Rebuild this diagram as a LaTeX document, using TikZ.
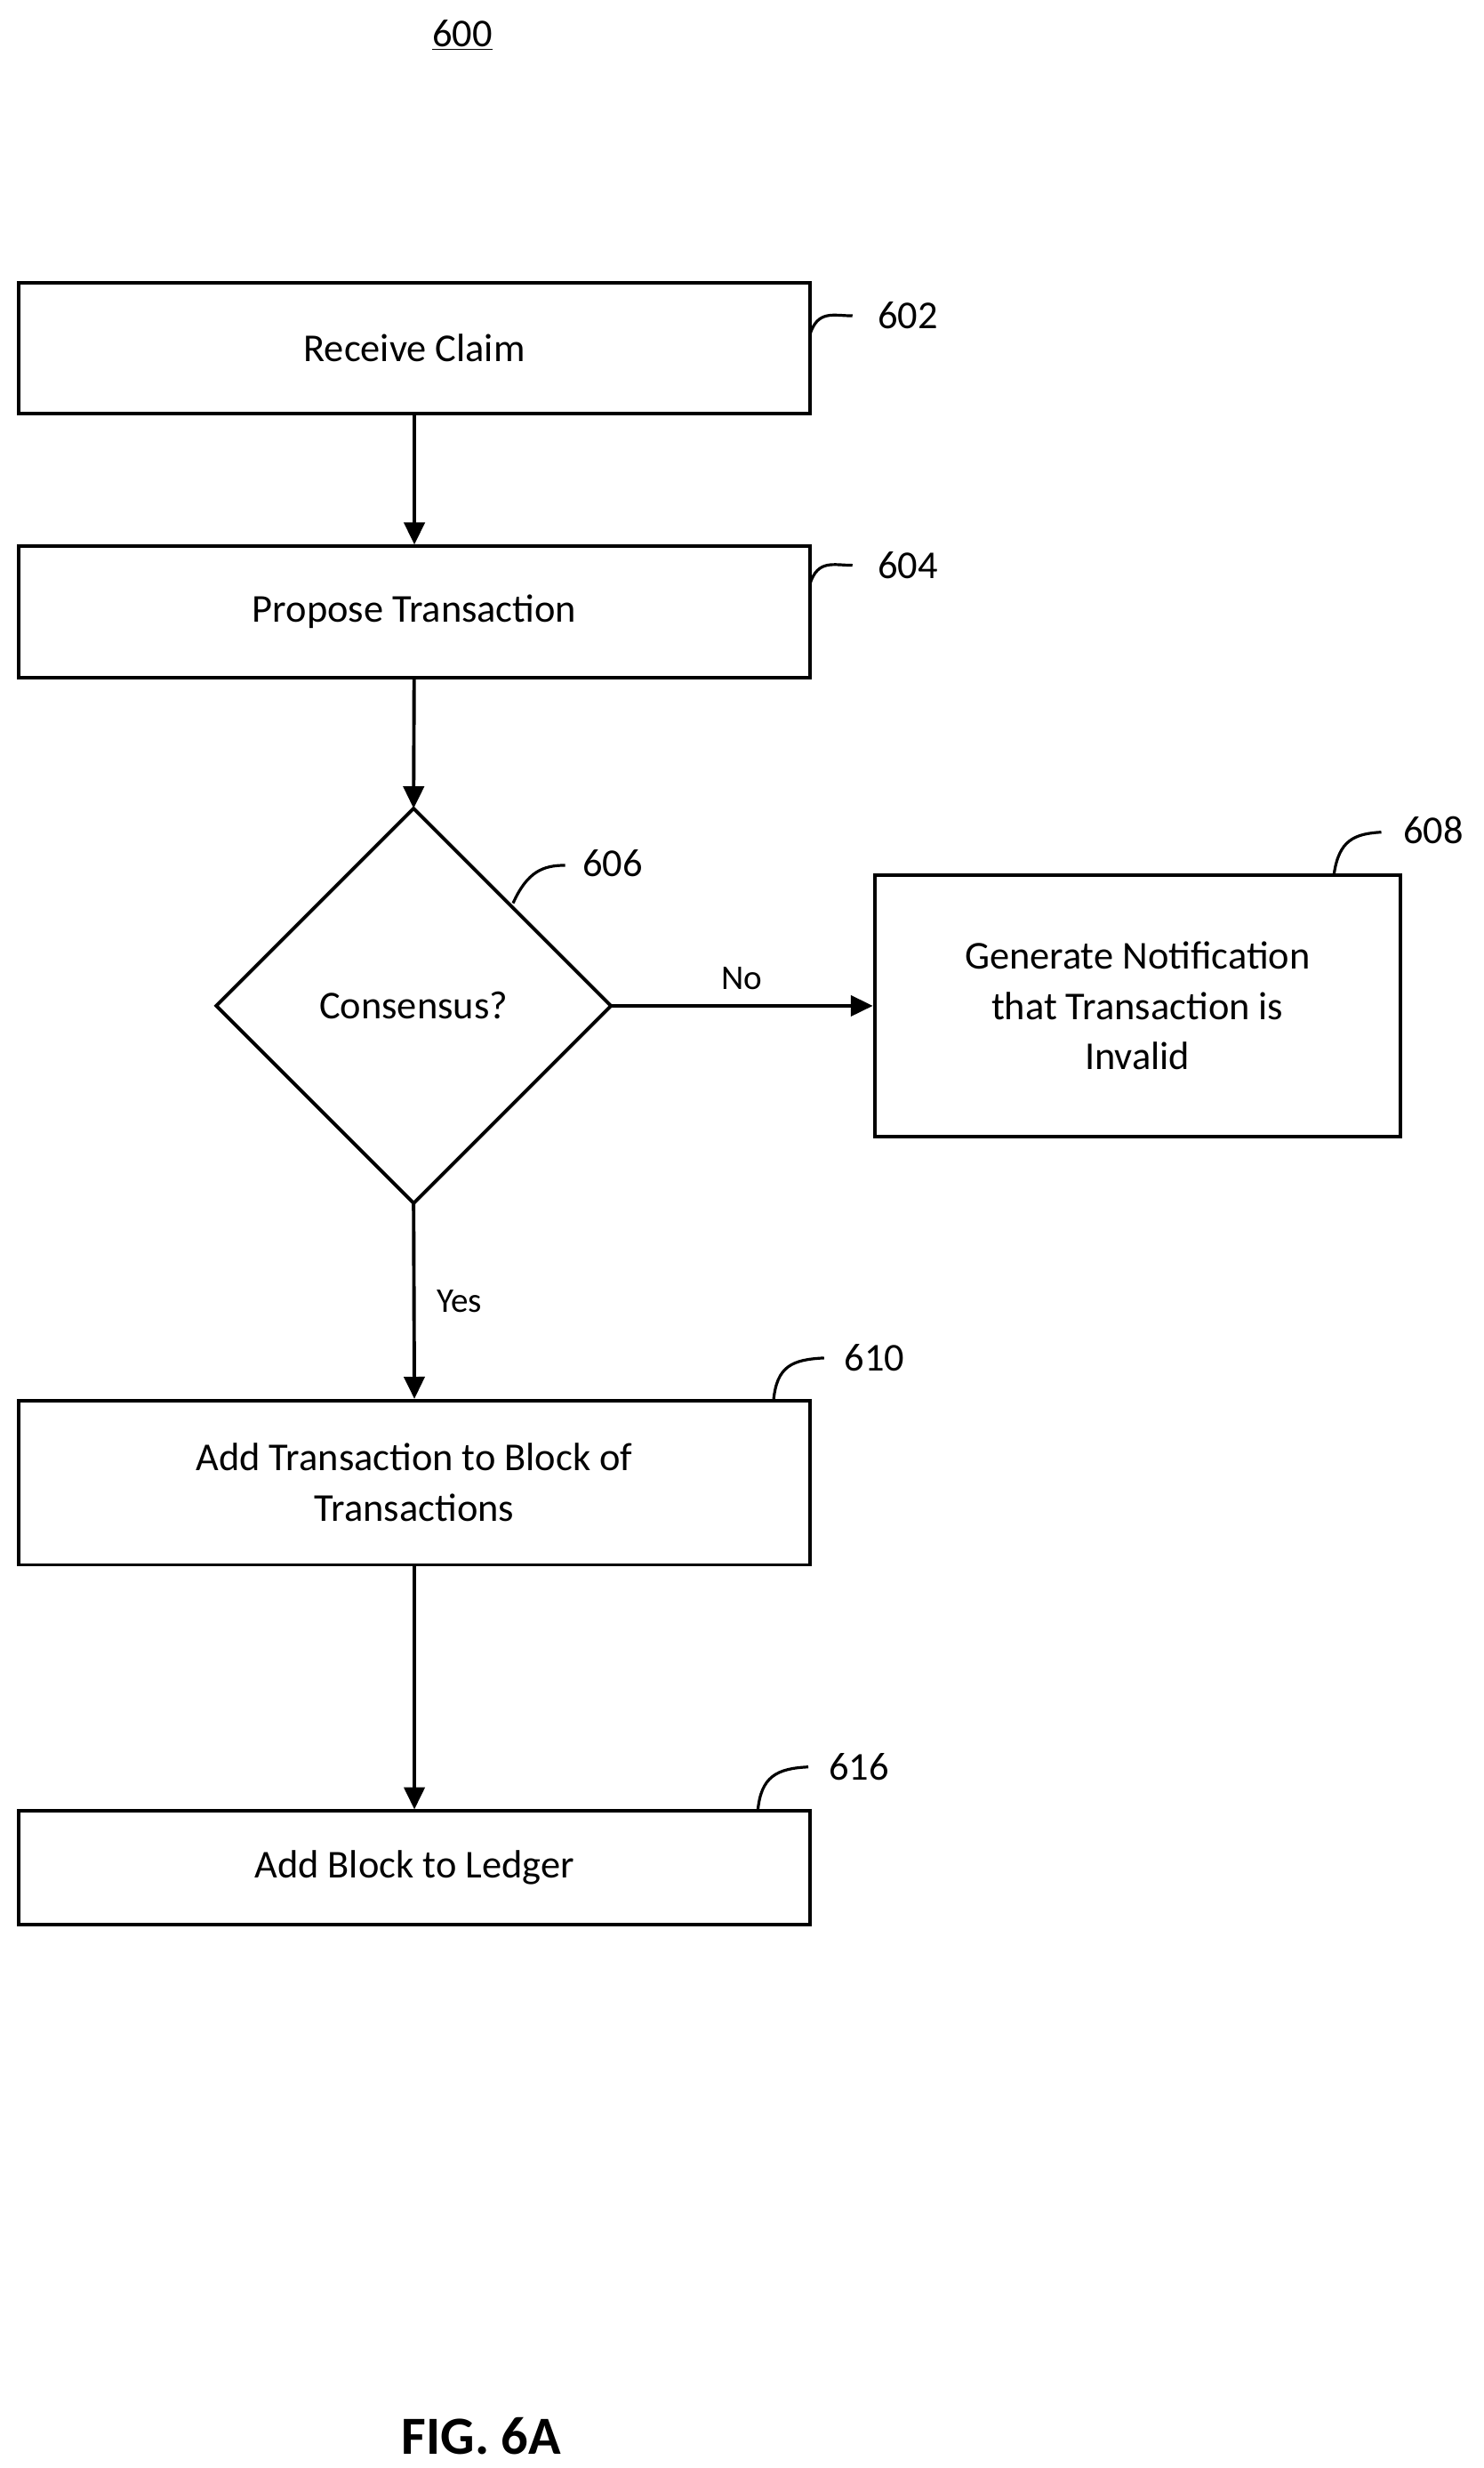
\documentclass[tikz,border=0pt]{standalone}
\usepackage{fontspec}
\setmainfont{Carlito}
\usetikzlibrary{arrows.meta}
\begin{document}
\begin{tikzpicture}[x=1pt,y=-1pt,
  box/.style={draw,line width=2.2pt,font=\fontsize{25}{32}\selectfont,align=center,inner sep=0},
  lab/.style={font=\fontsize{25}{30}\selectfont},
  arr/.style={line width=2.2pt,-{Triangle[length=14pt,width=13pt]}},
  sq/.style={line width=1.8pt}]
\useasboundingbox (0,0) rectangle (940,1563);
\node[lab] (t600) at (293,22) {\underline{600}};
\node[box,minimum width=501pt,minimum height=83pt] (b602) at (262.5,220.5) {Receive Claim};
\node[box,minimum width=501pt,minimum height=83pt] (b604) at (262.5,387.5) {Propose Transaction};
\draw[line width=2.2pt] (262,512) coordinate (dt) -- (387,637) coordinate (dr) -- (262,762) coordinate (db) -- (137,637) -- cycle;
\node[font=\fontsize{25}{30}\selectfont] (d606) at (262,637) {Consensus?};
\node[box,minimum width=333pt,minimum height=166pt] (b608) at (720.5,637) {Generate Notification\\that Transaction is\\Invalid};
\node[box,minimum width=501pt,minimum height=104pt] (b610) at (262.5,939) {Add Transaction to Block of\\Transactions};
\node[box,minimum width=501pt,minimum height=72pt] (b616) at (262.5,1183) {Add Block to Ledger};
\draw[arr] (b602) -- (b604);
\draw[arr] (b604) -- (dt);
\draw[arr] (dr) -- (b608.west) node[midway,above=6pt,font=\fontsize{22}{26}\selectfont] (no) {No};
\draw[arr] (db) -- (b610.north) node[midway,right=10pt,font=\fontsize{22}{26}\selectfont] (yes) {Yes};
\draw[arr] (b610) -- (b616);
% reference labels
\node[lab] (l602) at (575,200) {602};
\node[lab] (l604) at (575,358) {604};
\node[lab] (l606) at (388,547) {606};
\node[lab] (l608) at (908,526) {608};
\node[lab] (l610) at (554,860) {610};
\node[lab] (l616) at (544,1119) {616};
\draw[sq] (513,212) .. controls (518,196) and (528,200) .. (540,200);
\draw[sq] (513,370) .. controls (518,354) and (528,358) .. (540,358);
\draw[sq] (325,572) .. controls (334,552) and (344,548) .. (358,548);
\draw[sq] (845,554) .. controls (848,532) and (858,528) .. (875,527);
\draw[sq] (490,887) .. controls (492,865) and (502,861) .. (522,860);
\draw[sq] (480,1147) .. controls (482,1125) and (492,1120) .. (512,1119);
\node[font=\bfseries\fontsize{34}{40}\selectfont] (fig) at (305,1543) {FIG. 6A};
\end{tikzpicture}
\end{document}
